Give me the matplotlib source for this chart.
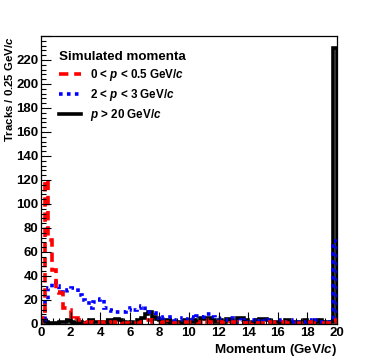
import matplotlib
matplotlib.use("Agg")
import matplotlib.pyplot as plt
import numpy as np
from matplotlib.ticker import MultipleLocator, FuncFormatter

plt.rcParams["font.family"] = ["Liberation Sans", "DejaVu Sans"]
plt.rcParams["font.weight"] = "bold"
plt.rcParams["axes.labelweight"] = "bold"
plt.rcParams["mathtext.fontset"] = "custom"
plt.rcParams["mathtext.it"] = "Liberation Sans:italic:bold"
plt.rcParams["mathtext.rm"] = "Liberation Sans:bold"

# %% data: reconstructed momentum, 0.25 GeV/c bins from 0 to 20
bin_edges = np.arange(0, 20.01, 0.25)

tracks_low = [5, 120, 70, 45, 27, 26, 13, 12, 3, 5, 3, 3, 2, 2, 1, 2,
              1, 2, 1, 2, 1, 2, 1, 1, 0, 1, 1, 2, 3, 3, 2, 1,
              1, 2, 1, 0, 1, 1, 2, 1, 2, 1, 0, 2, 3, 2, 1, 1,
              2, 1, 0, 1, 2, 1, 1, 1, 1, 2, 1, 1, 0, 1, 2, 1,
              1, 2, 1, 1, 1, 0, 1, 1, 2, 1, 1, 1, 1, 1, 1, 3]
tracks_mid = [3, 20, 30, 35, 32, 27, 26, 28, 30, 30, 24, 20, 19, 13, 18, 20,
              21, 13, 12, 11, 10, 10, 10, 12, 13, 12, 13, 15, 10, 10, 9, 5,
              3, 6, 6, 6, 3, 3, 5, 4, 6, 4, 7, 6, 8, 8, 6, 5,
              4, 3, 3, 5, 4, 2, 3, 2, 2, 3, 2, 4, 2, 3, 2, 2,
              3, 3, 2, 2, 3, 2, 2, 2, 3, 2, 3, 2, 2, 2, 2, 69]
tracks_high = [3, 2, 1, 1, 1, 2, 2, 3, 2, 1, 2, 1, 1, 3, 2, 2,
               2, 1, 3, 3, 4, 3, 2, 1, 2, 1, 3, 5, 8, 10, 6, 4,
               3, 2, 3, 1, 2, 2, 1, 3, 2, 3, 2, 5, 4, 5, 3, 2,
               3, 2, 4, 3, 2, 5, 5, 3, 1, 2, 3, 4, 4, 3, 2, 2,
               2, 1, 3, 2, 2, 1, 2, 3, 2, 1, 2, 3, 2, 1, 2, 230]

labels = ["0 < $p$ < 0.5 GeV/$c$", "2 < $p$ < 3 GeV/$c$", "$p$ > 20 GeV/$c$"]

# %% plot
fig = plt.figure(figsize=(3.74, 3.60), dpi=100)
ax = fig.add_axes([0.1096, 0.1, 0.7914, 0.8])

h_high = ax.stairs(tracks_high, bin_edges, color="black", linewidth=2.6,
                   baseline=0, label=labels[2])
h_mid = ax.stairs(tracks_mid, bin_edges, color="#0000ff", linewidth=2.6,
                  linestyle=(0, (1, 1.2)), baseline=0, label=labels[1])
h_low = ax.stairs(tracks_low, bin_edges, color="#ff0000", linewidth=2.6,
                  linestyle=(0, (2.6, 1.6)), baseline=0, label=labels[0])

ax.set_xlim(0, 20)
ax.set_ylim(0, 240)
ax.xaxis.set_major_locator(MultipleLocator(2))
ax.xaxis.set_minor_locator(MultipleLocator(0.4))
ax.yaxis.set_major_locator(MultipleLocator(20))
ax.yaxis.set_minor_locator(MultipleLocator(4))
# top label is left out, as in the original
ax.yaxis.set_major_formatter(FuncFormatter(lambda v, _: "" if v >= 240 else f"{v:.0f}"))
ax.tick_params(which="both", direction="in", top=False, right=False,
               labelsize=9.5, width=0.8, pad=2)
ax.tick_params(axis="x", which="major", length=9)
ax.tick_params(axis="x", which="minor", length=4.5)
ax.tick_params(axis="y", which="major", length=7)
ax.tick_params(axis="y", which="minor", length=3.5)
for lbl in ax.get_xticklabels() + ax.get_yticklabels():
    lbl.set_fontweight("bold")
for s in ax.spines.values():
    s.set_linewidth(0.9)

ax.set_xlabel("Momentum (GeV/$c$)", fontsize=9.6, fontweight="bold", loc="right", labelpad=2)
ax.set_ylabel("Tracks / 0.25 GeV/$c$", fontsize=8.2, fontweight="bold", loc="top")
ax.yaxis.set_label_coords(-0.088, 1.0)

leg = ax.legend(handles=[h_low, h_mid, h_high], labels=labels,
                title="Simulated momenta", alignment="left",
                loc="upper left", bbox_to_anchor=(0.045, 0.965),
                frameon=False, fontsize=8.4, title_fontsize=9.6,
                handlelength=1.9, handletextpad=0.8, labelspacing=0.35,
                borderaxespad=0)
leg.get_title().set_fontweight("bold")
for t in leg.get_texts():
    t.set_fontweight("bold")
leg._legend_box.sep = 3

fig.savefig("out.png", dpi=100)
